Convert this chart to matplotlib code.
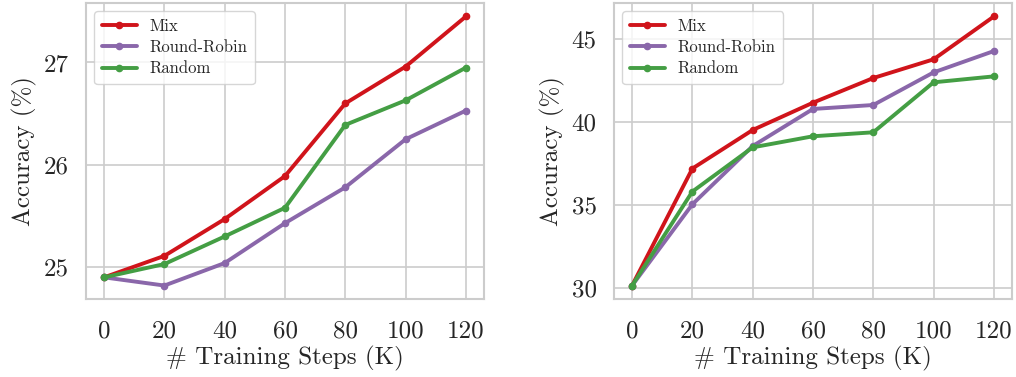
import matplotlib
matplotlib.use("Agg")
import matplotlib.pyplot as plt
import seaborn as sns

steps = [0, 20, 40, 60, 80, 100, 120]
series_names = ["Mix", "Round-Robin", "Random"]

left_mix = [24.90, 25.11, 25.47, 25.89, 26.60, 26.96, 27.45]
left_rr = [24.90, 24.82, 25.04, 25.43, 25.78, 26.25, 26.53]
left_random = [24.90, 25.03, 25.30, 25.58, 26.39, 26.63, 26.95]

right_mix = [30.12, 37.19, 39.52, 41.17, 42.66, 43.79, 46.38]
right_rr = [30.12, 35.03, 38.55, 40.79, 41.03, 43.00, 44.29]
right_random = [30.12, 35.80, 38.47, 39.14, 39.38, 42.40, 42.76]

left_yticks = [25, 26, 27]
right_yticks = [30, 35, 40, 45]
xticks = [0, 20, 40, 60, 80, 100, 120]

colors = ["#d0141b", "#8a67aa", "#449e44"]

sns.set_style("whitegrid")
plt.rcParams["font.family"] = ["cmr10", "DejaVu Serif"]
plt.rcParams["mathtext.fontset"] = "cm"
plt.rcParams["axes.formatter.use_mathtext"] = True
plt.rcParams["axes.unicode_minus"] = False

fig = plt.figure(figsize=(10.16, 3.77), dpi=100)
ax1 = fig.add_axes([86 / 1016, 78 / 377, 398 / 1016, 296 / 377])
ax2 = fig.add_axes([614 / 1016, 78 / 377, 398 / 1016, 296 / 377])

for ax, data, yt in [
    (ax1, [left_mix, left_rr, left_random], left_yticks),
    (ax2, [right_mix, right_rr, right_random], right_yticks),
]:
    for name, vals, c in zip(series_names, data, colors):
        ax.plot(steps, vals, color=c, lw=2.8, marker="o", markersize=4.5, label=name)
    ax.set_xticks(xticks)
    ax.set_yticks(yt)
    ax.set_xticklabels([str(v) for v in xticks])
    ax.set_yticklabels([str(v) for v in yt])
    ax.tick_params(axis="x", labelsize=18, colors="#262626", pad=12)
    ax.tick_params(axis="y", labelsize=18, colors="#262626", pad=9)
    ax.set_xlabel("# Training Steps (K)", fontsize=18, color="#262626", labelpad=2)
    ax.set_ylabel("Accuracy (%)", fontsize=18, color="#262626", labelpad=5)
    for sp in ax.spines.values():
        sp.set_color("#cccccc")
        sp.set_linewidth(1.5)
    ax.grid(True, color="#cccccc", lw=1.2)
    leg = ax.legend(loc="upper left", fontsize=12, frameon=True, handlelength=2.1,
                    borderpad=0.45, labelspacing=0.35, handletextpad=0.75)
    leg.get_frame().set_edgecolor("#cccccc")
    for t in leg.get_texts():
        t.set_color("#262626")

fig.savefig("out.png", dpi=100)
